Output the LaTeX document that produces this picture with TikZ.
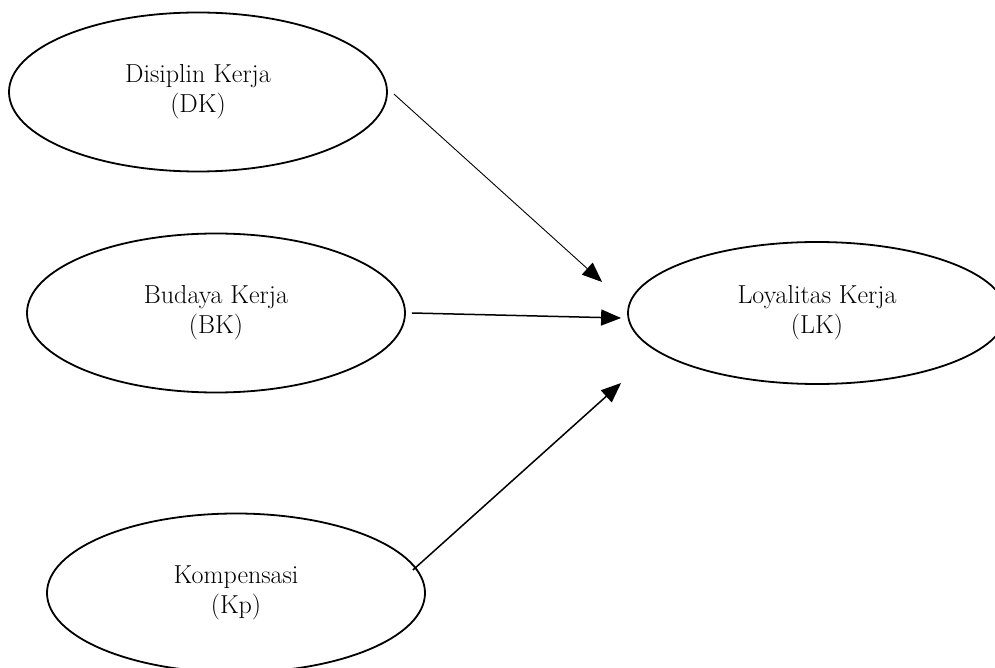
\documentclass[tikz,border=0pt]{standalone}
\usetikzlibrary{shapes.geometric, arrows.meta}

\begin{document}
\begin{tikzpicture}[
    x=1pt, y=-1pt,
    var/.style={draw, ellipse, line width=1.8pt, minimum width=378pt, minimum height=159pt, align=center, font=\fontsize{26}{30}\selectfont},
    arr/.style={-{Triangle[length=20pt, width=16pt]}, line width=1.5pt},
    thinarr/.style={arr, line width=0.9pt}
]
    \useasboundingbox (0,0) rectangle (995,668);

    % Independent variables
    \node[var] (dk) at (198, 92) {Disiplin Kerja\\(DK)};
    \node[var] (bk) at (216, 313) {Budaya Kerja\\(BK)};
    \node[var] (kp) at (236, 593) {Kompensasi\\(Kp)};

    % Dependent variable
    \node[var, minimum height=142pt] (lk) at (817, 313) {Loyalitas Kerja\\(LK)};

    % Paths into LK
    \draw[thinarr] ([xshift=6pt, yshift=-2pt]dk.east) -- ([xshift=-25pt, yshift=31pt]lk.west);
    \draw[arr] ([xshift=6pt]bk.east) -- ([xshift=-6pt, yshift=-5pt]lk.west);
    \draw[arr] ([xshift=-13pt, yshift=23pt]kp.east) -- ([xshift=-6pt, yshift=-70pt]lk.west);
\end{tikzpicture}
\end{document}
